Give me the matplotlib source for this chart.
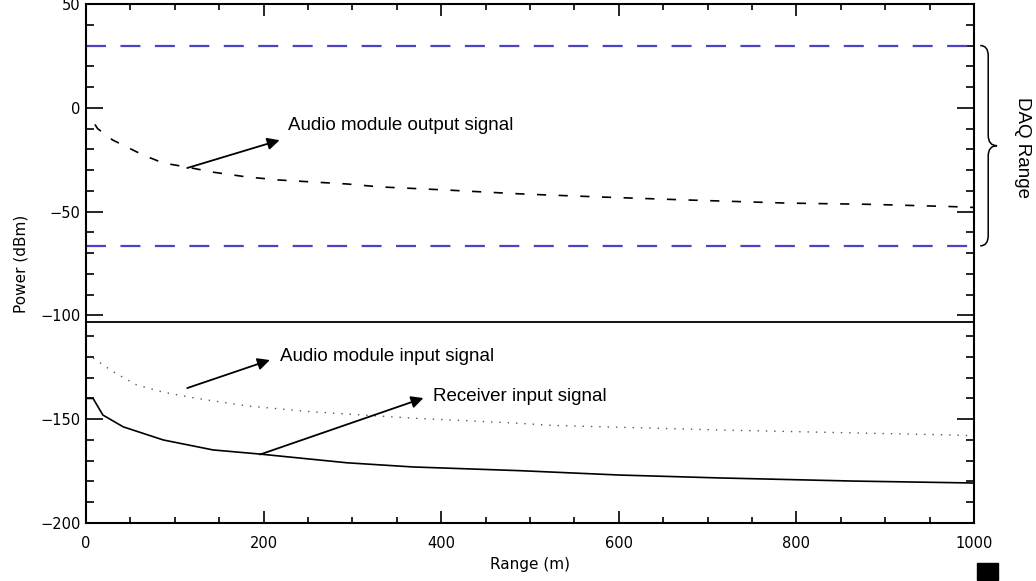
import numpy as np
import matplotlib
matplotlib.use("Agg")
import matplotlib.pyplot as plt
from matplotlib.path import Path
from matplotlib.patches import PathPatch, Rectangle
import matplotlib.transforms as mtransforms

# values
out_x = [10, 13, 30, 64, 87, 113, 143, 181, 218, 294, 331, 406, 481, 508, 582, 677, 789, 883, 976, 1000]
out_y = [-8, -10, -15.5, -22.7, -26.6, -28.5, -31, -33.3, -34.8, -36.7, -38.1, -39.6, -41.3,
         -41.8, -43, -44.4, -45.9, -46.5, -47.6, -48]

in_x = [8, 30, 57, 87, 125, 181, 256, 368, 481, 526, 714, 864, 977, 1000]
in_y = [-120.5, -127, -133.5, -137, -140, -143.6, -146.5, -149.5, -151.8, -153, -155.2, -156.6, -157.6, -158]

rx_x = [0, 8, 19, 42, 87, 143, 196, 294, 368, 489, 601, 714, 864, 995, 1000]
rx_y = [-140, -140, -148, -153.7, -160, -164.8, -166.8, -171, -173, -174.8, -176.9, -178.3, -179.8, -180.7, -180.8]

daq_hi = 30
daq_lo = -66.5
sep_line = -103

fig = plt.figure(figsize=(10.36, 5.81), dpi=100)
ax = fig.add_axes([86/1036, 1-523/581, 888/1036, 519/581])

ax.axhline(daq_hi, color='#4a44c4', lw=1.6, dashes=(9, 6.5))
ax.axhline(daq_lo, color='#4a44c4', lw=1.6, dashes=(9, 6.5))
ax.axhline(sep_line, color='k', lw=1.3)

ax.plot(out_x, out_y, color='k', lw=1.2, dashes=(5.5, 7.5))
ax.plot(in_x, in_y, color='#555555', lw=1.0, linestyle=(0, (1, 5)))
ax.plot(rx_x, rx_y, color='k', lw=1.2)

ax.set_xlim(0, 1000)
ax.set_ylim(-200, 50)
ax.set_xticks([0, 200, 400, 600, 800, 1000])
ax.set_xticks(np.arange(0, 1001, 50), minor=True)
ax.set_yticks([-200, -150, -100, -50, 0, 50])
ax.set_yticks(np.arange(-200, 51, 10), minor=True)
ax.tick_params(axis='both', which='both', direction='in', top=True, right=True,
               labelsize=10.5, width=1.2, color='k')
ax.tick_params(axis='y', which='major', length=12)
ax.tick_params(axis='y', which='minor', length=6)
ax.tick_params(axis='x', which='major', length=8.5)
ax.tick_params(axis='x', which='minor', length=4.5)
ax.tick_params(axis='x', pad=9)
ax.tick_params(axis='y', pad=4)
for s in ax.spines.values():
    s.set_linewidth(1.5)

ax.set_xlabel('Range (m)', fontsize=11, labelpad=5)
ax.set_ylabel('Power (dBm)', fontsize=11, labelpad=8)

txt_font = dict(fontsize=13.5, family='Liberation Sans', va='center', ha='left')
arrow = dict(arrowstyle='-|>', color='k', lw=1.3, mutation_scale=18, shrinkA=0, shrinkB=0)

ax.annotate('', xy=(218, -15.6), xytext=(114, -29), arrowprops=arrow)
ax.text(227, -8.3, 'Audio module output signal', **txt_font)

ax.annotate('', xy=(207, -121.5), xytext=(114, -135), arrowprops=arrow)
ax.text(218, -120, 'Audio module input signal', **txt_font)

ax.annotate('', xy=(380, -139.8), xytext=(196, -167), arrowprops=arrow)
ax.text(391, -139.3, 'Receiver input signal', **txt_font)

# brace for the DAQ range, outside the axes on the right
trans = mtransforms.blended_transform_factory(ax.transAxes, ax.transData)
x0, x1, x2 = 1.007, 1.016, 1.026
ymid = (daq_hi + daq_lo) / 2
r = 5
verts = [(x0, daq_hi), (x1, daq_hi), (x1, daq_hi - r),
         (x1, ymid + r),
         (x1, ymid), (x2, ymid),
         (x1, ymid), (x1, ymid - r),
         (x1, daq_lo + r),
         (x1, daq_lo), (x0, daq_lo)]
codes = [Path.MOVETO, Path.CURVE3, Path.CURVE3,
         Path.LINETO,
         Path.CURVE3, Path.CURVE3,
         Path.CURVE3, Path.CURVE3,
         Path.LINETO,
         Path.CURVE3, Path.CURVE3]
ax.add_patch(PathPatch(Path(verts, codes), transform=trans, fill=False, lw=1.1,
                       color='k', clip_on=False))
ax.text(1.055, ymid - 1, 'DAQ Range', transform=trans, rotation=270, fontsize=13.5,
        family='Liberation Sans', ha='center', va='center')

fig.patches.append(Rectangle((977/1036, 1-580/581), 21/1036, 17/581,
                             transform=fig.transFigure, color='k'))

fig.savefig('out.png', dpi=100)
